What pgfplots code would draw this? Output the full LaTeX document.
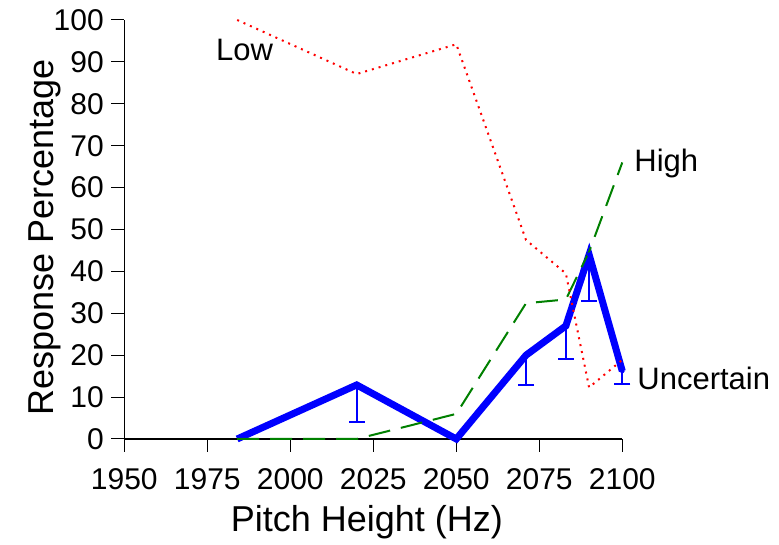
\documentclass[border=0pt]{standalone}
\usepackage{fontspec}
\setmainfont{Liberation Sans}
\usepackage{pgfplots}
\pgfplotsset{compat=1.18}
\definecolor{dgreen}{RGB}{0,128,0}
\begin{document}
\begin{tikzpicture}
\useasboundingbox (0,0) rectangle (779pt,545pt);
\begin{axis}[
  at={(124.3pt,106pt)}, anchor=south west,
  scale only axis, width=498pt, height=419pt,
  xmin=1950, xmax=2100, ymin=0, ymax=100,
  axis x line*=bottom, axis y line*=left,
  axis line style={-, line width=1.5pt, black},
  xtick={1950,1975,2000,2025,2050,2075,2100},
  ytick={0,10,...,100},
  tick align=outside, major tick length=13pt,
  tick style={black, line width=1pt},
  ticklabel style={font=\fontsize{30}{30}\selectfont},
  xticklabel style={yshift=-13pt},
  yticklabel style={xshift=-4pt},
  /pgf/number format/assume math mode=true,
  /pgf/number format/1000 sep={},
  xlabel={Pitch Height (Hz)}, ylabel={Response Percentage},
  label style={font=\fontsize{36}{36}\selectfont},
  xlabel style={at={(axis description cs:0.487,-0.2196)}, anchor=base},
  ylabel style={at={(axis description cs:-0.143,0.481)}, anchor=base},
  clip=false,
]
\addplot[blue, line width=7pt] coordinates {
  (1984,0) (2020,12.9) (2050,0) (2071,20) (2083,27) (2090,44) (2100,16.2)
};
\addplot[blue, only marks, mark=none, forget plot,
  error bars/.cd, y dir=minus, y explicit,
  error bar style={line width=2pt},
  error mark=|,
  error mark options={mark size=8pt, line width=2pt}]
  table[x=x, y=y, y error minus=e] {
  x y e
  2020 12.9 8.8
  2071 20 7
  2083 27 7.9
  2090 44 11
  2100 16.2 3.1
};
\addplot[dgreen, line width=2pt, dash pattern=on 22pt off 11pt] coordinates {
  (1984,0) (2020,0) (2050,6) (2071,32.4) (2083,33.3) (2090,44.7) (2100,66)
};
\addplot[red, line width=2pt, dash pattern=on 2pt off 5pt] coordinates {
  (1984,100) (2020,87.1) (2050,94.2) (2071,47.5) (2083,39.5) (2090,12.3) (2100,18.9)
};
\node[anchor=base west, inner sep=0pt, font=\fontsize{31}{31}\selectfont] at (axis cs:1977.6,90.45) {Low};
\node[anchor=base west, inner sep=0pt, font=\fontsize{31}{31}\selectfont] at (axis cs:2103.6,63.8) {High};
\node[anchor=base west, inner sep=0pt, font=\fontsize{31}{31}\selectfont] at (axis cs:2104.5,11.7) {Uncertain};
\end{axis}
\end{tikzpicture}
\end{document}
